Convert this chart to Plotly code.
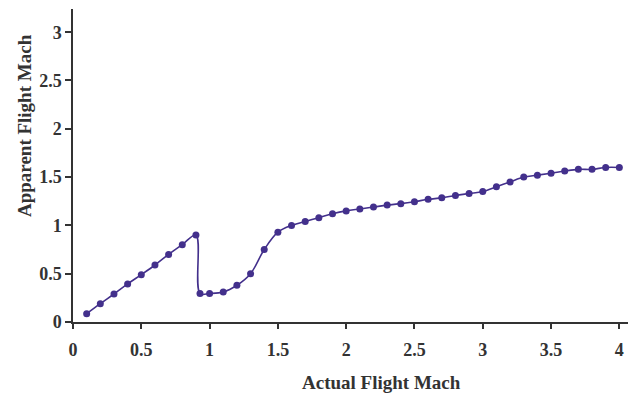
import plotly.graph_objects as go

actual_mach = [0.1, 0.2, 0.3, 0.4, 0.5, 0.6, 0.7, 0.8, 0.9, 0.93, 1.0, 1.1, 1.2, 1.3, 1.4,
               1.5, 1.6, 1.7, 1.8, 1.9, 2.0, 2.1, 2.2, 2.3, 2.4, 2.5, 2.6, 2.7, 2.8, 2.9,
               3.0, 3.1, 3.2, 3.3, 3.4, 3.5, 3.6, 3.7, 3.8, 3.9, 4.0]
apparent_mach = [0.086, 0.19, 0.29, 0.394, 0.49, 0.59, 0.70, 0.80, 0.90, 0.295, 0.295, 0.31, 0.38, 0.50, 0.75,
                 0.93, 1.0, 1.04, 1.08, 1.12, 1.15, 1.17, 1.19, 1.21, 1.225, 1.245, 1.27, 1.285, 1.31, 1.33,
                 1.35, 1.40, 1.45, 1.50, 1.52, 1.54, 1.5625, 1.58, 1.58, 1.60, 1.60]

x_ticks = [0, 0.5, 1, 1.5, 2, 2.5, 3, 3.5, 4]
x_tick_labels = ["0", "0.5", "1", "1.5", "2", "2.5", "3", "3.5", "4"]
y_ticks = [0, 0.5, 1, 1.5, 2, 2.5, 3]
y_tick_labels = ["0", "0.5", "1", "1.5", "2", "2.5", "3"]
x_title = "Actual Flight Mach"
y_title = "Apparent Flight Mach"

color = "#43308c"
ink = "#333333"
tick_font = dict(family="Liberation Serif", size=18, color=ink)
title_font = dict(family="Liberation Serif", size=19, color=ink)

fig = go.Figure()
fig.add_trace(go.Scatter(
    x=actual_mach, y=apparent_mach, mode="lines+markers",
    line=dict(color=color, width=1.6, shape="spline", smoothing=1),
    marker=dict(color=color, size=7),
    showlegend=False,
))

# page body has an 8px default margin; figure sized/positioned to compensate
fig.update_layout(
    width=628, height=386,
    margin=dict(l=65, r=3, t=1, b=72),
    plot_bgcolor="white", paper_bgcolor="white",
    font=dict(family="Liberation Serif", size=16, color=ink),
)
fig.update_xaxes(
    range=[0, 4.1], tickvals=x_ticks,
    ticktext=["<b>%s</b>" % t for t in x_tick_labels],
    automargin=False,
    showgrid=False, zeroline=False, showline=True, linecolor=ink, linewidth=1.5,
    ticks="outside", ticklen=5, tickwidth=1.5, tickcolor=ink,
    tickfont=tick_font, ticklabelstandoff=6,
)
fig.update_yaxes(
    range=[0, 3.24], tickvals=y_ticks,
    ticktext=["<b>%s</b>" % t for t in y_tick_labels],
    automargin=False,
    showgrid=False, zeroline=False, showline=True, linecolor=ink, linewidth=1.5,
    ticks="outside", ticklen=6, tickwidth=1.5, tickcolor=ink,
    tickfont=tick_font,
)
fig.add_annotation(
    text="<b>%s</b>" % x_title, xref="paper", yref="paper",
    x=0.55, y=-0.193, xanchor="center", yanchor="middle",
    showarrow=False, font=title_font,
)
fig.add_annotation(
    text="<b>%s</b>" % y_title, xref="paper", yref="paper",
    x=-0.0875, y=0.626, xanchor="center", yanchor="middle", textangle=-90,
    showarrow=False, font=title_font,
)

fig.write_html("out.html")
